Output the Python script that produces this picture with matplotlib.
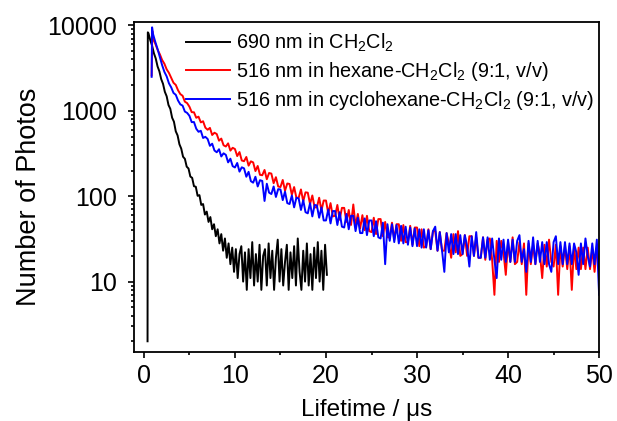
import numpy as np
import matplotlib
matplotlib.use('Agg')
import matplotlib.pyplot as plt
from matplotlib.ticker import NullFormatter, FixedLocator

plt.rcParams['font.family'] = ['Liberation Sans', 'DejaVu Sans']
plt.rcParams['mathtext.fontset'] = 'custom'
plt.rcParams['mathtext.rm'] = 'Liberation Sans'
plt.rcParams['mathtext.it'] = 'Liberation Sans'

# decay traces, counts
# black: 690 nm in CH2Cl2, sampled every 0.2 us from 0.5 us
black_rise_t = [0.40, 0.43]
black_rise = [2, 8300]
black_start, black_dt = 0.5, 0.2
black_vals = [8100, 6720, 5780, 4720, 4100, 3310, 2900, 2350, 2070, 1670,
              1480, 1170, 1055, 830, 745, 575, 515, 406, 361, 290,
              274, 222, 211, 170, 164, 131, 129, 101, 103, 79,
              81, 61, 66, 50, 57, 41, 47, 34, 41, 28,
              36, 23, 32, 19, 28, 16, 25, 13, 24, 11,
              21,
              26, 10, 22, 8, 24, 11, 29, 9, 21, 10,
              27, 8, 20, 24, 9, 28, 11, 23, 8, 19,
              31, 10, 24, 9, 17, 27, 8, 22, 11, 26,
              9, 32, 13, 8, 23, 10, 28, 9, 21, 8,
              25, 11, 29, 10, 23, 8, 27, 12]

# red: 516 nm in hexane-CH2Cl2, sampled every 0.25 us from 1.0 us
red_rise_t = [0.85, 0.92]
red_rise = [2600, 8600]
red_start, red_dt = 1.0, 0.25
red_vals = [7000, 6110, 5200, 4600, 3940, 3560, 3060, 2780,
            2440, 2130, 2010, 1740, 1570, 1500, 1280, 1230,
            1118, 965, 961, 829, 854, 732, 755, 635,
            600, 631, 521, 554, 535, 447, 473, 395,
            382, 416, 342, 369, 357, 295, 329, 262,
            257, 288, 228, 256, 249, 197, 226, 178,
            176, 203, 158, 187, 184, 142, 167, 130,
            128, 155, 116, 141, 139, 104, 128, 96,
            96, 120, 87, 111, 110, 81, 102, 74,
            74, 96, 68, 89, 89, 63, 83, 58,
            59, 79, 53, 73, 73, 50, 69, 46,
            80, 45, 62, 42, 60, 40, 59, 39,
            38, 56, 36, 54, 54, 34, 50, 33,
            33, 49, 31, 47, 47, 30, 46, 29,
            29, 45, 27, 43, 43, 26, 41, 25,
            26, 41, 24, 39, 39, 23, 38, 23,
            23, 37, 28, 19, 36, 22, 39, 20,
            21, 35, 20, 34, 34, 20, 33, 19,
            19, 33, 18, 31, 32, 18, 7, 30,
            17, 30, 22, 12, 29, 17, 33, 16,
            17, 29, 16, 28, 7, 28, 16, 27,
            16, 28, 21, 11, 27, 15, 31, 17,
            15, 27, 7, 26, 15, 26, 14, 26,
            8, 26, 14, 25, 14, 25, 14, 25,
            14, 24, 13, 24, 15]

# blue: 516 nm in cyclohexane-CH2Cl2, same sampling as red
blue_rise_t = [0.85, 0.90]
blue_rise = [2500, 9500]
blue_start, blue_dt = 1.0, 0.25
blue_vals = [7950, 6420, 5300, 4240, 3430, 2860, 2530, 2100,
             1880, 1620, 1540, 1320, 1190, 1150, 980, 945,
             874, 737, 739, 617, 568, 584, 481, 496,
             468, 389, 412, 343, 327, 355, 292, 318,
             305, 249, 275, 225, 217, 245, 194, 218,
             212, 169, 193, 150, 144, 169, 130, 154,
             151, 88, 140, 110, 106, 130, 98, 121,
             120, 90, 113, 83, 81, 102, 74, 96,
             94, 69, 90, 65, 63, 83, 58, 79,
             78, 56, 74, 52, 52, 70, 48, 67,
             67, 46, 65, 44, 43, 62, 41, 59,
             59, 39, 56, 37, 37, 55, 35, 52,
             52, 34, 51, 33, 32, 49, 16, 47,
             30, 47, 29, 46, 28, 45, 28, 44,
             27, 43, 26, 42, 26, 41, 25, 41,
             25, 40, 24, 39, 44, 23, 38, 23,
             13, 37, 22, 36, 21, 36, 21, 35,
             21, 35, 26, 15, 34, 20, 38, 19,
             19, 33, 19, 33, 18, 32, 18, 11,
             32, 18, 31, 17, 31, 17, 31, 17,
             30, 35, 17, 24, 13, 30, 17, 33,
             16, 30, 17, 29, 16, 29, 16, 13,
             29, 34, 16, 29, 16, 29, 16, 28,
             16, 28, 22, 12, 28, 16, 32, 20,
             15, 28, 16, 31, 7]

labels = ['690 nm in CH$_2$Cl$_2$',
          '516 nm in hexane-CH$_2$Cl$_2$ (9:1, v/v)',
          '516 nm in cyclohexane-CH$_2$Cl$_2$ (9:1, v/v)']


def trace(rise_t, rise_v, start, dt, vals):
    t = np.concatenate([rise_t, start + dt * np.arange(len(vals))])
    v = np.concatenate([rise_v, vals])
    return t, v


fig = plt.figure(figsize=(6.17, 4.21), dpi=100)
ax = fig.add_axes([0.217, 0.164, 0.754, 0.784])

t, v = trace(black_rise_t, black_rise, black_start, black_dt, black_vals)
ax.plot(t, v, color='black', lw=1.4, label=labels[0])
t, v = trace(red_rise_t, red_rise, red_start, red_dt, red_vals)
ax.plot(t, v, color='#ff0000', lw=1.4, label=labels[1])
t, v = trace(blue_rise_t, blue_rise, blue_start, blue_dt, blue_vals)
ax.plot(t, v, color='#0000ff', lw=1.4, label=labels[2])

ax.set_yscale('log')
ax.set_xlim(-1.1, 50)
ax.set_ylim(1.5, 11000)

ax.set_xticks([0, 10, 20, 30, 40, 50])
ax.set_xticks([5, 15, 25, 35, 45], minor=True)
ax.set_yticks([10, 100, 1000, 10000])
ax.set_yticklabels(['10', '100', '1000', '10000'])
ax.yaxis.set_minor_locator(FixedLocator(
    [m * 10 ** e for e in range(0, 4) for m in range(2, 10)]))
ax.yaxis.set_minor_formatter(NullFormatter())

ax.tick_params(which='both', direction='out', top=False, right=False, width=1.2)
ax.tick_params(which='major', length=4, labelsize=18)
ax.tick_params(axis='x', which='major', pad=5)
ax.tick_params(axis='y', which='major', pad=8)
ax.tick_params(which='minor', length=2.5)
for s in ax.spines.values():
    s.set_linewidth(1.3)

ax.set_xlabel('Lifetime / \u03bcs', fontsize=17.5)
ax.set_ylabel('Number of Photos', fontsize=19.5)
ax.xaxis.set_label_coords(0.5, -0.142)
ax.yaxis.set_label_coords(-0.197, 0.47)

leg = ax.legend(loc='upper left', bbox_to_anchor=(0.112, 0.97), frameon=False,
                fontsize=14.3, handlelength=2.2, handletextpad=0.3,
                labelspacing=0.3, borderpad=0, borderaxespad=0)

fig.savefig('out.png', dpi=100)
